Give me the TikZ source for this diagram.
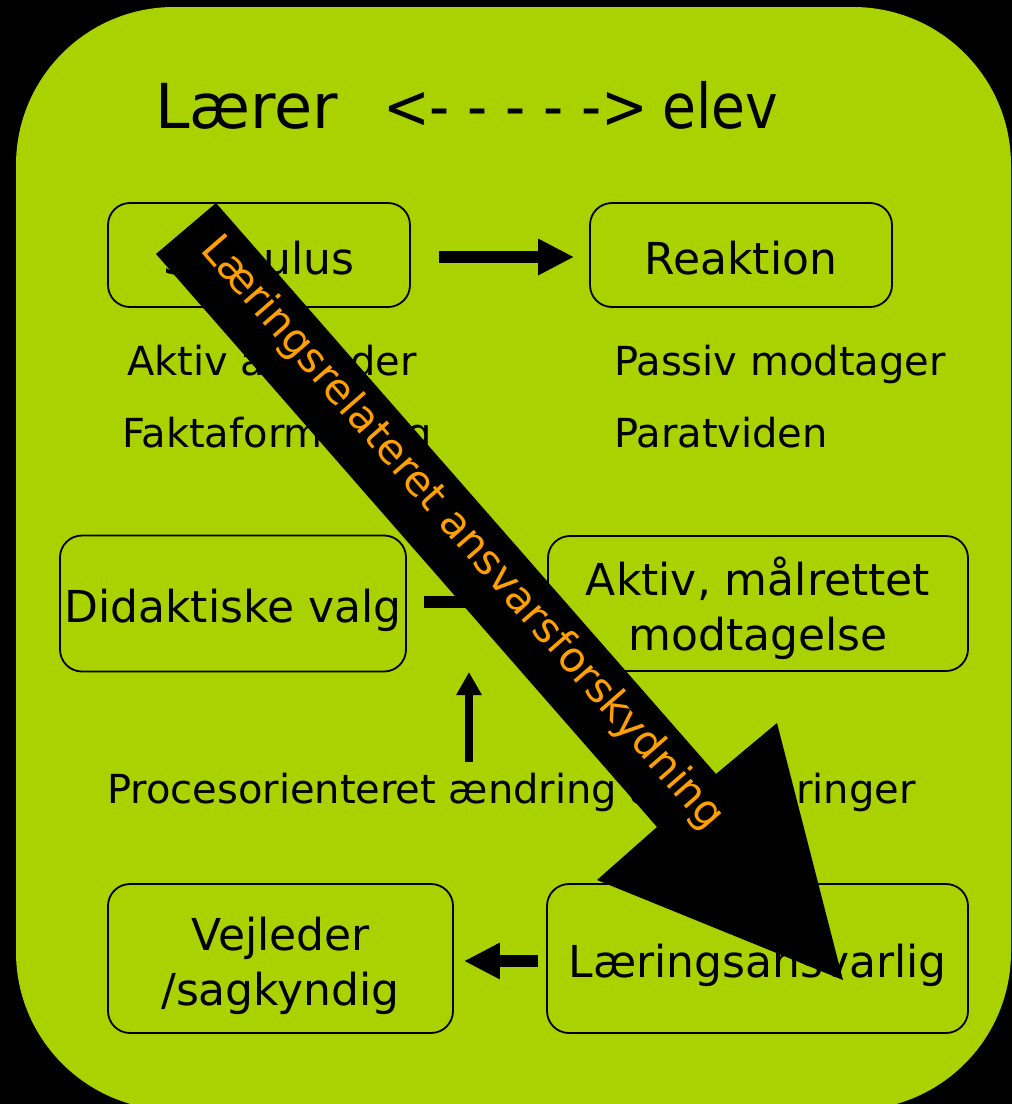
\documentclass[tikz,border=0pt]{standalone}
\usepackage{fontspec}
\setmainfont{DejaVu Sans}
\usetikzlibrary{arrows.meta}
\definecolor{leaf}{RGB}{170,210,0}
\definecolor{amber}{RGB}{255,160,0}
\begin{document}
\begin{tikzpicture}[x=1pt,y=-1pt,
  box/.style={draw=black, line width=1.8pt, rounded corners=22pt, inner sep=0pt,
    text height=38pt, text depth=0pt, font=\fontsize{44}{55}\selectfont},
  box2/.style={draw=black, line width=1.8pt, rounded corners=22pt, inner sep=0pt,
    align=center, font=\fontsize{44}{55}\selectfont},
  note/.style={anchor=base west, inner sep=0pt, font=\fontsize{40}{48}\selectfont},
  title/.style={anchor=base west, inner sep=0pt, font=\fontsize{62}{70}\selectfont},
  fat/.style={line width=12pt, -{Triangle[length=36pt,width=34pt]}},
  thin/.style={line width=8pt, -{Triangle[length=23pt,width=24pt]}},
]
% canvas and green panel
\path[use as bounding box] (0,0) rectangle (1012,1104);
\fill[black] (0,0) rectangle (1012,1104);
\fill[leaf, rounded corners=158pt] (16,7) rectangle (1011,1110);

% heading
\node[title] (teacher) at (155,128) {\scalebox{1.0}[1]{Lærer}};
\node[title] (dash) at (383,128) {\scalebox{0.9}[1]{<- - - - ->}};
\node[title] (pupil) at (662,128) {\scalebox{0.89}[1]{elev}};

% boxes
\node[box, minimum width=302pt, minimum height=104pt] (stim) at (259,255) {Stimulus};
\node[box, minimum width=302pt, minimum height=104pt] (reak) at (741,255) {Reaktion};
\node[box, minimum width=346pt, minimum height=136pt] (did) at (233,603.5) {Didaktiske valg};
\node[box2, minimum width=420pt, minimum height=135pt] (akt) at (758,603.5)
  {\rule{0pt}{48pt}Aktiv, målrettet\\modtagelse};
\node[box2, minimum width=345pt, minimum height=149pt] (vej) at (280.5,958.5)
  {\rule{0pt}{48pt}Vejleder\\/sagkyndig};
\node[box, minimum width=421pt, minimum height=149pt] (laer) at (757.5,958.5) {Læringsansvarlig};

% free texts
\node[note] (afsender) at (127,375) {Aktiv afsender};
\node[note] (fakta) at (122,447) {Faktaformidling};
\node[note] (passiv) at (614,375) {Passiv modtager};
\node[note] (parat) at (614,447) {Paratviden};
\node[note] (proc) at (107,803) {Procesorienteret ændring af vurderinger};

% connectors
\draw[fat] ([xshift=28pt,yshift=-2pt]stim.east) -- ([xshift=-15pt,yshift=-2pt]reak.west);
\draw[fat] ([xshift=17pt,yshift=2pt]did.east) -- ([xshift=-13pt,yshift=2pt]akt.west);
\coordinate (liftfoot) at (469,762);
\coordinate (lifttip) at (469,672);
\draw[thin] (liftfoot) -- (lifttip);
\draw[fat] ([xshift=-8pt,yshift=-2.5pt]laer.west) -- ([xshift=10pt,yshift=-2.5pt]vej.east);

% big diagonal arrow
\coordinate (t1) at (156,254);
\coordinate (t2) at (216,203);
\coordinate (j1) at (657,827);
\coordinate (j2) at (716,774);
\coordinate (b1) at (597,880);
\coordinate (b2) at (777,723);
\coordinate (tip) at (843,980);
\fill[black] (t2) -- (j2) -- (b2) -- (tip) -- (b1) -- (j1) -- (t1) -- cycle;
\node[rotate=-48.9, anchor=base west, inner sep=0pt, text=amber,
  font=\fontsize{42}{50}\selectfont] (shift) at (199,250)
  {Læringsrelateret ansvarsforskydning};
\end{tikzpicture}
\end{document}
